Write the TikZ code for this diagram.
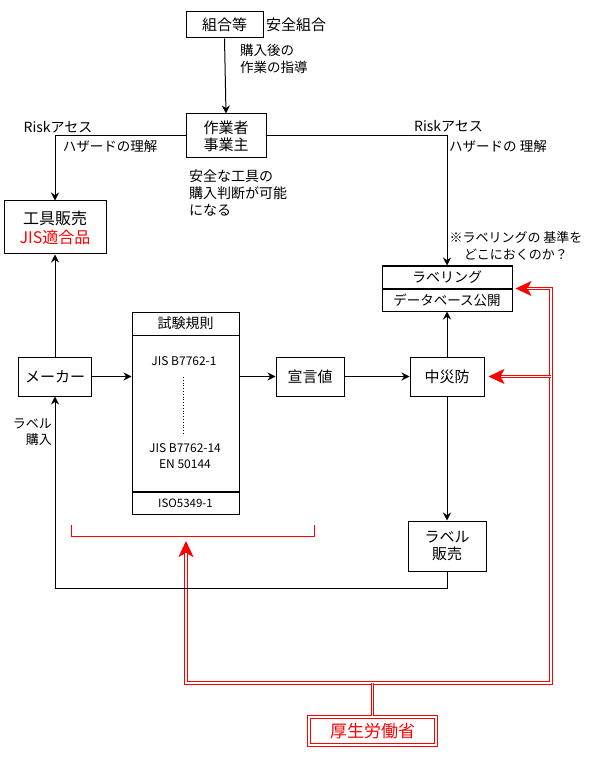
\documentclass[tikz,border=0pt]{standalone}
\usepackage{fontspec}
\setmainfont{Noto Sans CJK JP}
\usetikzlibrary{arrows.meta}
\begin{document}
\begin{tikzpicture}[x=1pt,y=-1pt,
  box/.style={draw,line width=1pt,inner sep=0pt,align=center,font=\fontsize{15}{18}\selectfont},
  arr/.style={line width=1pt,-{Stealth[length=8pt,width=8pt]}},
  ln/.style={line width=1pt},
  rd/.style={draw=white,line width=1.1pt,preaction={draw=red,line width=3.1pt}},
  rarr/.style={draw=red,fill=red,line width=1pt,-{Stealth[length=16pt,width=15pt,inset=4pt]}},
  lbl/.style={inner sep=0pt,font=\fontsize{13.5}{16.5}\selectfont},
  sml/.style={inner sep=0pt,font=\fontsize{12}{14}\selectfont},
]
\useasboundingbox[fill=white] (0,0) rectangle (590,775);

% boxes
\node[box,minimum width=77pt,minimum height=26pt] (kumiai) at (224.5,25) {組合等};
\node[box,minimum width=80pt,minimum height=44pt,font=\fontsize{15}{17}\selectfont] (sagyo) at (226,136) {作業者\\事業主};
\node[box,minimum width=102pt,minimum height=53pt,font=\fontsize{16}{19}\selectfont] (kogu) at (55,227.5) {工具販売\\\textcolor{red}{JIS適合品}};
\node[box,minimum width=73pt,minimum height=39pt] (maker) at (55,376.5) {メーカー};
\node[box,minimum width=107pt,minimum height=202pt] (shiken) at (185.5,413) {};
\node[box,minimum width=68pt,minimum height=39pt] (sengen) at (310,376.5) {宣言値};
\node[box,minimum width=74pt,minimum height=39pt] (chusai) at (447,376.5) {中災防};
\node[box,minimum width=130pt,minimum height=45pt] (labeling) at (447,288.5) {};
\node[box,minimum width=78pt,minimum height=50pt,font=\fontsize{15}{17}\selectfont] (labelhan) at (447,546) {ラベル\\販売};
\node[rd,inner sep=0pt,minimum width=127pt,minimum height=28pt,font=\fontsize{17}{20}\selectfont,text=red] (mhlw) at (372.5,731) {厚生労働省};

% red double network (drawn first, black lines on top)
\coordinate (rl) at (186,683);
\coordinate (rr) at (551,683);
\coordinate (rt) at (551,288.5);
\coordinate (rm) at (551,376.5);
\draw[rarr] (rl) -- (186,541);
\draw[rarr,shorten >=3pt] (rt) -- (labeling.east);
\draw[rarr,shorten >=4pt] (rm) -- (chusai.east);
\draw[rd] (186,553) -- (rl) -- (rr) -- (rt) -- (527,288.5);
\draw[rd] (rm) -- (501,376.5);
\draw[rd] (mhlw.north) -- (mhlw.north |- rl);

% inside shiken
\draw[ln] (132,335) -- (239,335);
\draw[line width=2pt] (132,492) -- (239,492);
\node[lbl,font=\fontsize{14}{16}\selectfont] (sk1) at (185.5,323.5) {試験規則};
\node[sml] (sk2) at (184,361) {JIS B7762-1};
\draw[line width=0.8pt,dotted] (183,377) -- (183,435);
\node[sml] (sk3) at (185,448) {JIS B7762-14};
\node[sml] (sk4) at (185,464) {EN 50144};
\node[sml,font=\fontsize{11.5}{14}\selectfont] (sk5) at (185.5,503) {ISO5349-1};

% inside labeling
\draw[line width=2pt] (382,289) -- (512,289);
\node[lbl,font=\fontsize{14}{16}\selectfont] (lb1) at (447,277.5) {ラベリング};
\node[lbl,font=\fontsize{13.5}{16}\selectfont] (lb2) at (447,300) {データベース公開};

% labels
\node[lbl,font=\fontsize{15}{18}\selectfont,anchor=west] (anzen) at (266,25) {安全組合};
\node[lbl,align=left,anchor=west] (shido) at (240,59) {購入後の\\作業の指導};
\node[lbl,font=\fontsize{14}{16}\selectfont] (risk1) at (58,127) {Riskアセス};
\node[lbl] (haz1) at (110,146) {ハザードの理解};
\node[lbl,font=\fontsize{14}{16}\selectfont] (risk2) at (448.5,126) {Riskアセス};
\node[lbl] (haz2) at (498,146) {ハザードの 理解};
\node[lbl,font=\fontsize{14}{17}\selectfont,align=left,anchor=west] (kano) at (189,193) {安全な工具の\\購入判断が可能\\になる};
\node[lbl,font=\fontsize{13}{17}\selectfont,align=center] (kijun) at (516,245.5) {※ラベリングの 基準を\\どこにおくのか？};
\node[lbl,font=\fontsize{13}{16}\selectfont,align=right,anchor=east] (lkonyu) at (52,432) {ラベル\\購入};

% black connectors
\draw[arr] (kumiai.south) -- (sagyo.north);
\draw[arr] (sagyo.west) -| (kogu.north);
\draw[arr] (sagyo.east) -| (labeling.north);
\draw[arr] (maker.north) -- (kogu.south);
\draw[arr] (maker.east) -- (maker.east -| shiken.west);
\draw[arr] (sengen.west -| shiken.east) -- (sengen.west);
\draw[arr] (sengen.east) -- (chusai.west);
\draw[arr] (chusai.north) -- (labeling.south);
\draw[arr] (chusai.south) -- (labelhan.north);
\coordinate (bot) at (447,588);
\draw[arr] (labelhan.south) -- (bot) -| (maker.south);

% red bracket
\draw[red,line width=1pt] (71,525) -- (71,536) -- (314,536) -- (314,525);
\end{tikzpicture}
\end{document}
